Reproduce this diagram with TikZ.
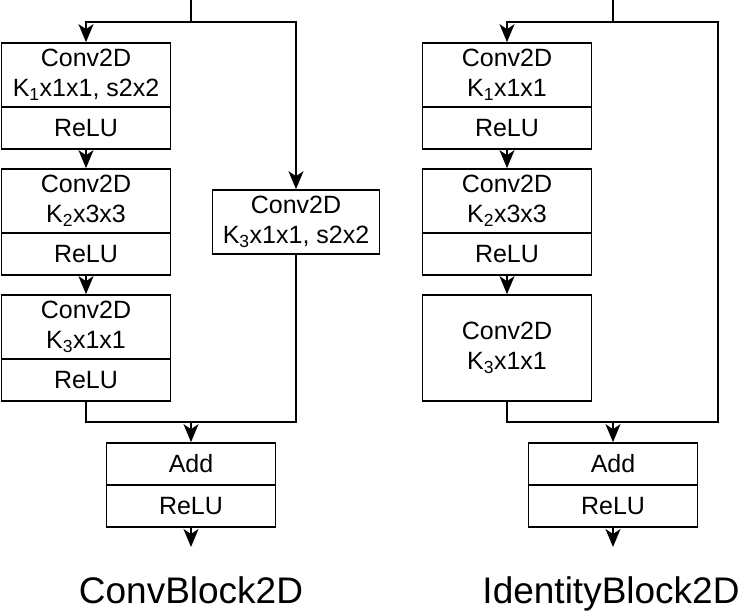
\documentclass[tikz,border=0pt]{standalone}
\usepackage{fontspec}
\setmainfont{Liberation Sans}
\usetikzlibrary{arrows.meta}

\begin{document}
\begin{tikzpicture}[x=1pt,y=-1pt,>={Stealth[length=18pt,width=15pt,inset=5pt]},line width=1.7pt,
  cv/.style={draw,align=center,minimum width=169pt,minimum height=64pt,inner sep=0pt,font=\fontsize{25}{30}\selectfont},
  rl/.style={draw,minimum width=169pt,minimum height=42pt,inner sep=0pt,font=\fontsize{25}{30}\selectfont},
  ttl/.style={anchor=base,font=\fontsize{37}{44}\selectfont}]
  \useasboundingbox (0,0) rectangle (744,612);
  % ConvBlock2D
  \node[cv] (c1) at (86,75) {Conv2D\\K\textsubscript{1}x1x1, s2x2};\node[rl] (r1) at (86,128) {ReLU};
  \node[cv] (c2) at (86,201) {Conv2D\\K\textsubscript{2}x3x3};\node[rl] (r2) at (86,254) {ReLU};
  \node[cv] (c3) at (86,327) {Conv2D\\K\textsubscript{3}x1x1};\node[rl] (r3) at (86,380) {ReLU};
  \node[cv,minimum width=167pt] (sc) at (296,222) {Conv2D\\K\textsubscript{3}x1x1, s2x2};
  \node[rl] (add) at (191,464) {Add};\node[rl] (ar) at (191,506) {ReLU};
  \coordinate (in1) at (191,0);\coordinate (sp1) at (191,22);\coordinate (mg1) at (191,422);\coordinate (out1) at (191,547);
  \draw (in1)--(sp1);\draw[->] (sp1)-|(c1);\draw[->] (sp1)-|(sc);
  \draw[->] (r1)--(c2);\draw[->] (r2)--(c3);
  \draw (r3)|-(mg1);\draw (sc)|-(mg1);\draw[->] (mg1)--(add);\draw[->] (ar)--(out1);
  \node[ttl] (t1) at (191,603) {ConvBlock2D};
  % IdentityBlock2D
  \node[cv] (ic1) at (507,75) {Conv2D\\K\textsubscript{1}x1x1};\node[rl] (ir1) at (507,128) {ReLU};
  \node[cv] (ic2) at (507,201) {Conv2D\\K\textsubscript{2}x3x3};\node[rl] (ir2) at (507,254) {ReLU};
  \node[cv,minimum height=106pt] (ic3) at (507,348) {Conv2D\\K\textsubscript{3}x1x1};
  \node[rl] (iadd) at (613,464) {Add};\node[rl] (iar) at (613,506) {ReLU};
  \coordinate (in2) at (613,0);\coordinate (sp2) at (613,22);\coordinate (skt) at (718,22);\coordinate (mg2) at (613,422);\coordinate (out2) at (613,547);
  \draw (in2)--(sp2);\draw[->] (sp2)-|(ic1);\draw (sp2)--(skt)|-(mg2);
  \draw[->] (ir1)--(ic2);\draw[->] (ir2)--(ic3);
  \draw (ic3)|-(mg2);\draw[->] (mg2)--(iadd);\draw[->] (iar)--(out2);
  \node[ttl] (t2) at (611,603) {IdentityBlock2D};
\end{tikzpicture}
\end{document}
